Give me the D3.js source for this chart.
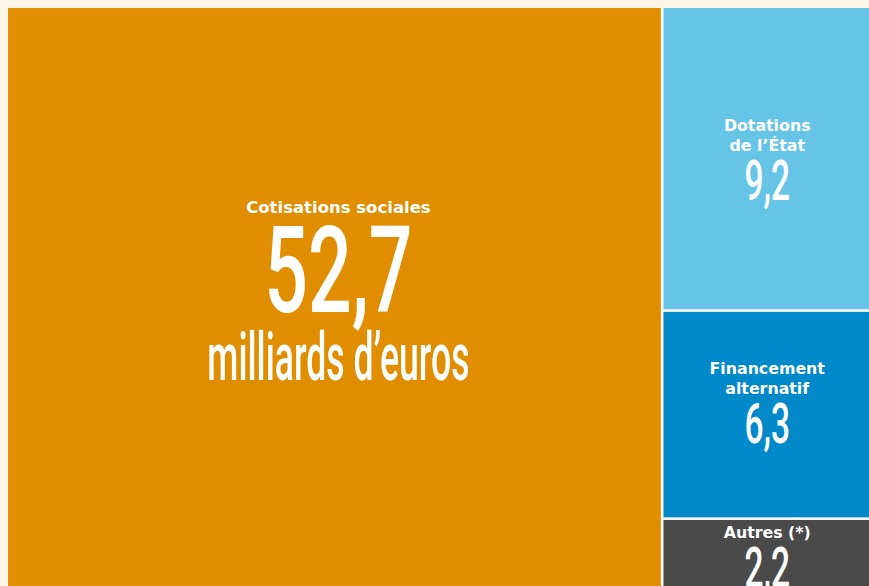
<!DOCTYPE html>
<html>
<head>
<meta charset="utf-8">
<script src="https://cdn.jsdelivr.net/npm/d3@7"></script>
<style>
  html, body { margin: 0; padding: 0; background: #fdf5e8; overflow: hidden; }
  #chart { width: 869px; height: 586px; }
</style>
</head>
<body>
<div id="chart"></div>
<script>
// sources de financement (milliards d'euros)
const categories = ["Cotisations sociales", "Dotations de l’État", "Financement alternatif", "Autres (*)"];
const labelLines = [["Cotisations sociales"], ["Dotations", "de l’État"], ["Financement", "alternatif"], ["Autres (*)"]];
const values = [52.7, 9.2, 6.3, 2.2];
const valueLabels = ["52,7", "9,2", "6,3", "2,2"];
const unitLabel = "milliards d’euros";

const colors = ["#e08e00", "#66c5e6", "#0089c9", "#4a4a4a"];

// placement of the text block relative to the rect centre (first label baseline)
const textDx = [4, -5, -5, -5];
const textDy = [-86, -28, -41, -17];

class Treemap {
    constructor(parentElement) {
        this.parentElement = parentElement;
        this.initVis();
    }

    initVis() {
        let vis = this;

        vis.margin = {top: 8, left: 8};
        vis.width = 873;
        vis.height = 582;

        vis.svg = d3.select("#" + vis.parentElement).append("svg")
            .attr("width", 869)
            .attr("height", 586)
            .style("display", "block");

        vis.svg.append("rect")
            .attr("width", 869).attr("height", 586)
            .attr("fill", "#fdf5e8");

        vis.g = vis.svg.append("g")
            .attr("transform", `translate(${vis.margin.left},${vis.margin.top})`);

        // light gutters between the tiles
        vis.g.append("rect")
            .attr("width", vis.width).attr("height", vis.height)
            .attr("fill", "#fffdf8");

        vis.wrangleData();
    }

    wrangleData() {
        let vis = this;

        let items = categories.map((c, i) => ({
            name: c, lines: labelLines[i], value: values[i], label: valueLabels[i],
            color: colors[i], dx: textDx[i], dy: textDy[i]
        }));

        vis.data = {
            name: "root",
            children: [items[0], {name: "autres sources", children: items.slice(1)}]
        };

        vis.updateVis();
    }

    updateVis() {
        let vis = this;

        let root = d3.hierarchy(vis.data).sum(d => d.value || 0);

        d3.treemap()
            .tile(d3.treemapSliceDice)
            .size([vis.width, vis.height])
            .paddingInner(2.6)
            .round(false)(root);

        let leaves = vis.g.selectAll(".leaf")
            .data(root.leaves())
            .join("g")
            .attr("class", "leaf");

        leaves.append("rect")
            .attr("x", d => d.x0)
            .attr("y", d => d.y0)
            .attr("width", d => d.x1 - d.x0)
            .attr("height", d => d.y1 - d.y0)
            .attr("fill", d => d.data.color);

        const numFont = "Roboto, 'DejaVu Sans Condensed', sans-serif";

        leaves.each(function(d) {
            let leaf = d3.select(this);
            let big = d.depth === 1;
            let cx = (d.x0 + d.x1) / 2 + d.data.dx;
            let cy = (d.y0 + d.y1) / 2 + d.data.dy;

            d.data.lines.forEach((line, i) => {
                leaf.append("text")
                    .attr("x", cx)
                    .attr("y", cy + i * 20)
                    .attr("text-anchor", "middle")
                    .attr("fill", "#ffffff")
                    .attr("font-family", "'DejaVu Sans', Verdana, sans-serif")
                    .attr("font-weight", 700)
                    .attr("font-size", big ? 16.5 : 15.8)
                    .text(line);
            });

            let lastY = cy + (d.data.lines.length - 1) * 20;
            let numY = big ? lastY + 99 : lastY + 49;

            leaf.append("text")
                .attr("transform", `translate(${cx},${numY}) scale(${big ? 0.64 : 0.6},1)`)
                .attr("text-anchor", "middle")
                .attr("fill", "#ffffff")
                .attr("font-family", numFont)
                .attr("font-weight", 500)
                .attr("font-size", big ? 120 : 56)
                .text(d.data.label);

            if (big) {
                leaf.append("text")
                    .attr("transform", `translate(${cx},${numY + 68}) scale(0.54,1)`)
                    .attr("text-anchor", "middle")
                    .attr("fill", "#ffffff")
                    .attr("font-family", numFont)
                    .attr("font-weight", 500)
                    .attr("font-size", 66)
                    .text(unitLabel);
            }
        });
    }
}

new Treemap("chart");
</script>
</body>
</html>
